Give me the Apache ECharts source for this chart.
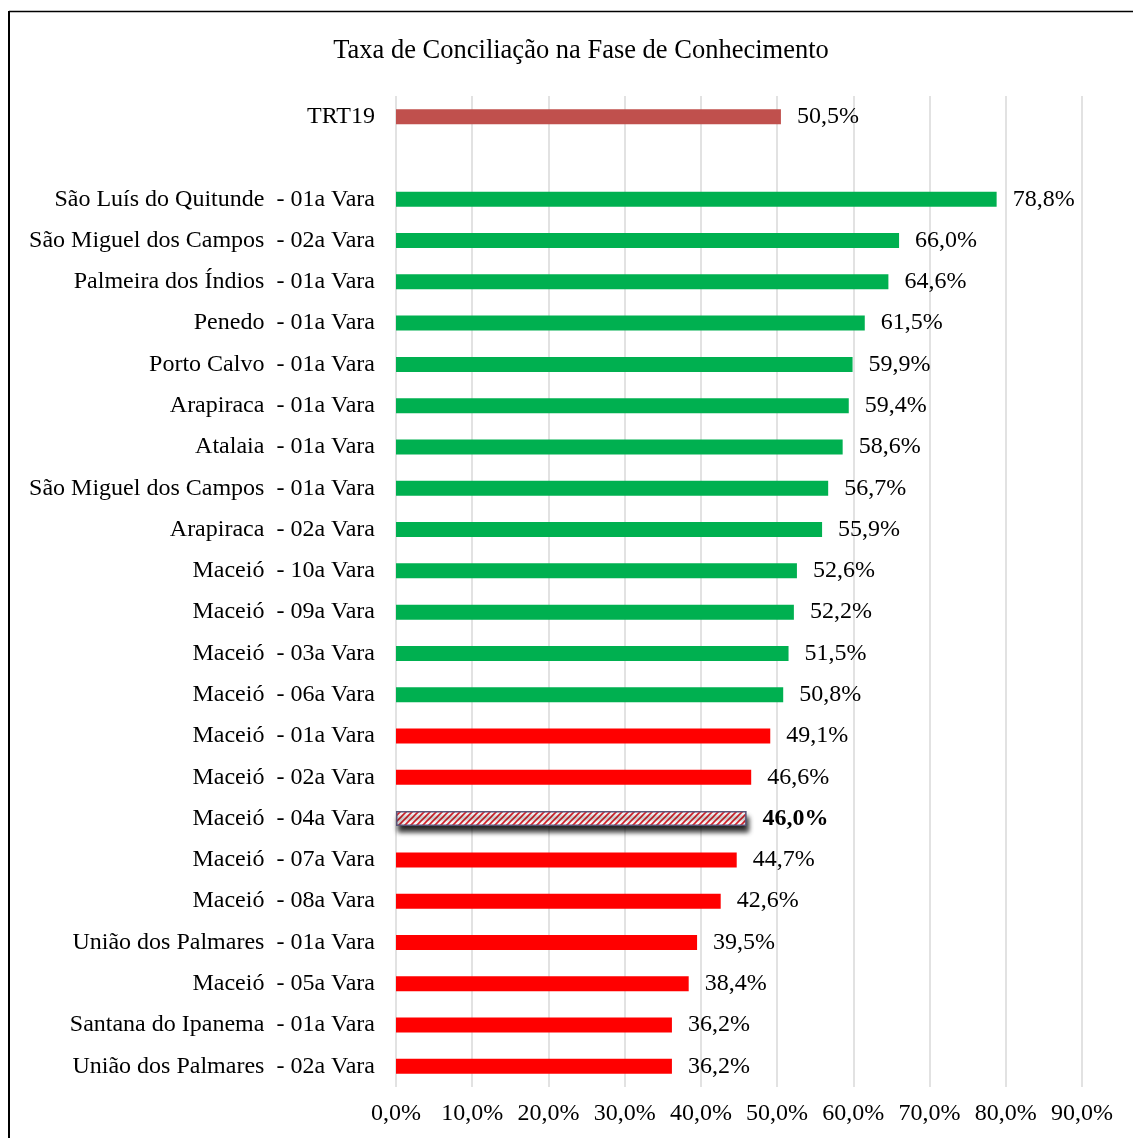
<!DOCTYPE html>
<html>
<head>
<meta charset="utf-8">
<script src="https://cdn.jsdelivr.net/npm/echarts@6/dist/echarts.min.js"></script>
<style>
html,body{margin:0;padding:0;background:#fff;}
#chart{width:1133px;height:1138px;}
</style>
</head>
<body>
<div id="chart"></div>
<script>
const title = 'Taxa de Conciliação na Fase de Conhecimento';
const categories = [
  'TRT19',
  '',
  'São Luís do Quitunde  - 01a Vara',
  'São Miguel dos Campos  - 02a Vara',
  'Palmeira dos Índios  - 01a Vara',
  'Penedo  - 01a Vara',
  'Porto Calvo  - 01a Vara',
  'Arapiraca  - 01a Vara',
  'Atalaia  - 01a Vara',
  'São Miguel dos Campos  - 01a Vara',
  'Arapiraca  - 02a Vara',
  'Maceió  - 10a Vara',
  'Maceió  - 09a Vara',
  'Maceió  - 03a Vara',
  'Maceió  - 06a Vara',
  'Maceió  - 01a Vara',
  'Maceió  - 02a Vara',
  'Maceió  - 04a Vara',
  'Maceió  - 07a Vara',
  'Maceió  - 08a Vara',
  'União dos Palmares  - 01a Vara',
  'Maceió  - 05a Vara',
  'Santana do Ipanema  - 01a Vara',
  'União dos Palmares  - 02a Vara'
];
const values = [50.5, null, 78.8, 66.0, 64.6, 61.5, 59.9, 59.4, 58.6, 56.7, 55.9, 52.6, 52.2, 51.5, 50.8, 49.1, 46.6, 46.0, 44.7, 42.6, 39.5, 38.4, 36.2, 36.2];
const groups = ['total', null, 'above','above','above','above','above','above','above','above','above','above','above','above','above',
  'below','below','highlight','below','below','below','below','below','below'];
const xTicks = {min: 0, max: 90, interval: 10};

// hatch pattern for highlighted bar
function makeHatch() {
  const c = document.createElement('canvas');
  c.width = 6; c.height = 6;
  const g = c.getContext('2d');
  g.fillStyle = '#ffffff';
  g.fillRect(0, 0, 6, 6);
  g.strokeStyle = '#e0202a';
  g.lineWidth = 1.6;
  g.beginPath();
  g.moveTo(-1, 7); g.lineTo(7, -1);
  g.moveTo(-4, 4); g.lineTo(4, -4);
  g.moveTo(2, 10); g.lineTo(10, 2);
  g.stroke();
  return c;
}
const hatch = makeHatch();

const FONT = '"Liberation Serif", "Times New Roman", serif';
const styles = {
  total: {itemStyle: {color: '#C0504D'}},
  above: {itemStyle: {color: '#00B050'}},
  below: {itemStyle: {color: '#FF0000'}},
  highlight: {
    itemStyle: {color: {image: hatch, repeat: 'repeat'}, borderColor: '#5a5478', borderWidth: 1.5,
      shadowColor: 'rgba(0,0,0,0.85)', shadowBlur: 5, shadowOffsetY: 6, shadowOffsetX: 2},
    label: {fontWeight: 'bold', fontSize: 24}
  }
};

const data = values.map((v, i) => {
  if (v === null) return {value: null};
  const s = styles[groups[i]];
  return Object.assign({value: v}, {label: s.label || {}}, {itemStyle: s.itemStyle});
});

const chart = echarts.init(document.getElementById('chart'), null, {renderer: 'canvas'});
chart.setOption({
  backgroundColor: '#ffffff',
  animation: false,
  title: {
    text: title, left: 576, top: 33, textAlign: 'center',
    textStyle: {fontFamily: FONT, fontSize: 26.5, fontWeight: 'normal', color: '#000'}
  },
  graphic: [
    {type: 'line', shape: {x1: 9, y1: 11.5, x2: 1133, y2: 11.5}, style: {stroke: '#000', lineWidth: 1.5}},
    {type: 'line', shape: {x1: 9, y1: 11, x2: 9, y2: 1138}, style: {stroke: '#000', lineWidth: 2}}
  ],
  grid: {left: 396, right: 51, top: 96, bottom: 51, containLabel: false},
  xAxis: {
    type: 'value', min: xTicks.min, max: xTicks.max, interval: xTicks.interval,
    axisLine: {show: false}, axisTick: {show: false},
    splitLine: {show: true, lineStyle: {color: '#D9D9D9', width: 1.5}},
    axisLabel: {
      margin: 15, color: '#000', fontFamily: FONT, fontSize: 24,
      formatter: v => v.toFixed(1).replace('.', ',') + '%'
    }
  },
  yAxis: {
    type: 'category', data: categories, inverse: true,
    axisLine: {show: false}, axisTick: {show: false},
    axisLabel: {margin: 21, color: '#000', fontFamily: FONT, fontSize: 24}
  },
  series: [{
    type: 'bar', data: data, barWidth: 15,
    label: {
      show: true, position: 'right', distance: 16, color: '#000',
      fontFamily: FONT, fontSize: 24,
      formatter: p => p.value == null ? '' : p.value.toFixed(1).replace('.', ',') + '%'
    }
  }]
});
</script>
</body>
</html>
